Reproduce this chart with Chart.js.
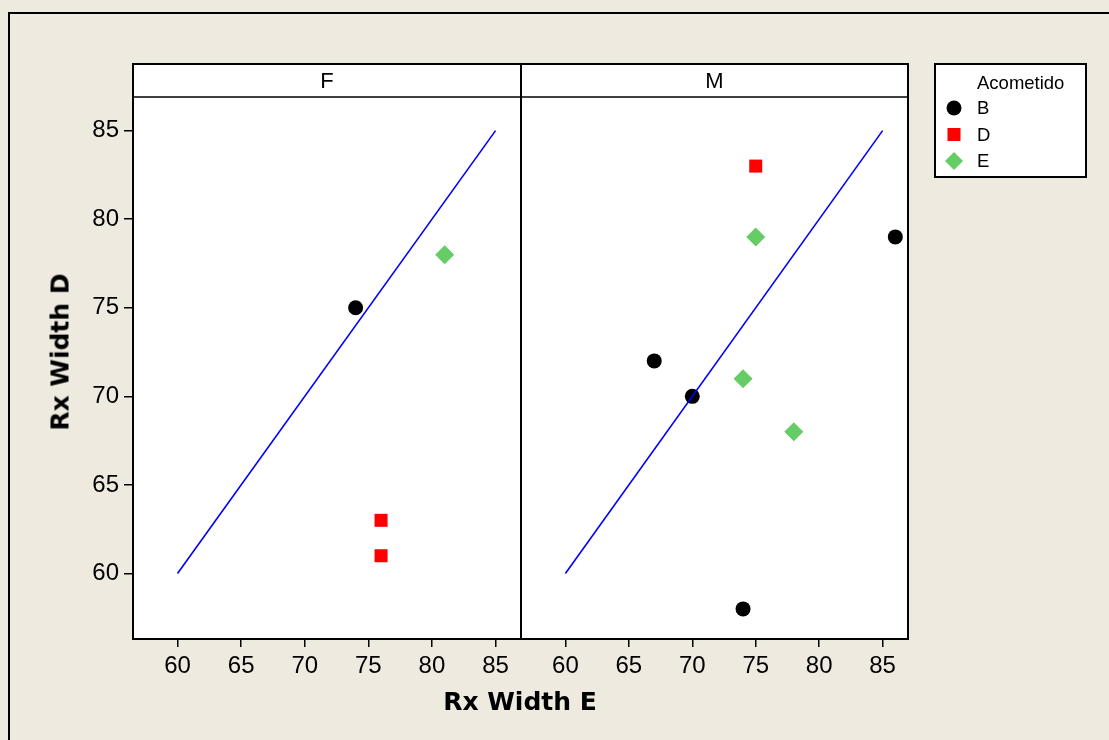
<!DOCTYPE html>
<html>
<head>
<meta charset="utf-8">
<script src="https://cdn.jsdelivr.net/npm/chart.js@4.4.0/dist/chart.umd.min.js"></script>
<style>
  body { margin: 0; background: #EEEAE0; width: 1109px; height: 740px; overflow: hidden; position: relative; }
  #frame { position: absolute; left: 8px; top: 12px; width: 1200px; height: 800px; border-left: 2px solid #000; border-top: 2px solid #000; }
  canvas { position: absolute; left: 0; top: 0; }
  .title { position: absolute; font-family: "DejaVu Sans", sans-serif; font-weight: bold; font-size: 25px; color: #000; white-space: nowrap; }
  #xTitle { left: 520px; top: 701px; transform: translate(-50%, -50%); }
  #yTitle { left: 60px; top: 352px; transform: translate(-50%, -50%) rotate(-90deg); }
</style>
</head>
<body>
<div id="frame"></div>
<canvas id="chartF" width="1109" height="740"></canvas>
<canvas id="chartM" width="1109" height="740"></canvas>
<div class="title" id="xTitle">Rx Width E</div>
<div class="title" id="yTitle">Rx Width D</div>
<script>
// data
const panels = ['F', 'M'];
const groups = ['B', 'D', 'E'];
const xTicks = [60, 65, 70, 75, 80, 85];
const yTicks = [60, 65, 70, 75, 80, 85];
const refLine = [60, 85];

// panel F
const fB_x = [74];
const fB_y = [75];
const fD_x = [76, 76];
const fD_y = [63, 61];
const fE_x = [81];
const fE_y = [78];

// panel M
const mB_x = [67, 70, 74, 86];
const mB_y = [72, 70, 58, 79];
const mD_x = [75];
const mD_y = [83];
const mE_x = [75, 74, 78];
const mE_y = [79, 71, 68];

const xMin = 56.5, xMax = 87;
const yMin = 56.3, yMax = 86.9;
const tickFont = { family: '"Liberation Sans", Arial, sans-serif', size: 24 };
const stripH = 33;

const groupStyle = {
    B: { shape: 'circle', color: '#000000', radius: 7.5 },
    D: { shape: 'rect', color: '#FF0000', radius: 9.2 },
    E: { shape: 'rectRot', color: '#66CC66', radius: 9.5 }
};

function zip(xs, ys) {
    return xs.map((x, i) => ({ x: x, y: ys[i] }));
}

function panelDatasets(bx, by, dx, dy, ex, ey) {
    const pts = { B: zip(bx, by), D: zip(dx, dy), E: zip(ex, ey) };
    const sets = [{
        label: 'y = x',
        data: zip(refLine, refLine),
        showLine: true,
        pointRadius: 0,
        borderColor: '#0000FF',
        borderWidth: 1.6,
        fill: false
    }];
    groups.forEach(g => {
        const st = groupStyle[g];
        sets.push({
            label: g,
            data: pts[g],
            pointStyle: st.shape,
            pointRadius: st.radius,
            pointHoverRadius: st.radius,
            backgroundColor: st.color,
            borderColor: st.color,
            borderWidth: 0
        });
    });
    return sets;
}

// white plot area, header strip and black frame of each panel
const panelFrame = {
    id: 'panelFrame',
    beforeDraw(chart, args, opts) {
        const { ctx, chartArea: a } = chart;
        ctx.save();
        ctx.fillStyle = '#FFFFFF';
        ctx.fillRect(a.left, a.top - stripH, a.width, a.height + stripH);
        ctx.restore();
    },
    afterDraw(chart, args, opts) {
        const { ctx, chartArea: a } = chart;
        ctx.save();
        ctx.strokeStyle = '#000';
        ctx.lineWidth = 2;
        ctx.strokeRect(a.left, a.top - stripH, a.width, a.height + stripH);
        ctx.lineWidth = 1.5;
        ctx.beginPath();
        ctx.moveTo(a.left, a.top);
        ctx.lineTo(a.right, a.top);
        ctx.stroke();
        ctx.fillStyle = '#000';
        ctx.font = '22px "Liberation Sans", Arial, sans-serif';
        ctx.textAlign = 'center';
        ctx.textBaseline = 'middle';
        ctx.fillText(opts.label, (a.left + a.right) / 2, a.top - stripH / 2 + 1);
        ctx.restore();
    }
};

function drawMarker(ctx, shape, color, r, x, y) {
    ctx.fillStyle = color;
    ctx.beginPath();
    if (shape === 'circle') {
        ctx.arc(x, y, r, 0, Math.PI * 2);
    } else if (shape === 'rect') {
        const s = r * Math.SQRT1_2;
        ctx.rect(x - s, y - s, 2 * s, 2 * s);
    } else {
        ctx.moveTo(x, y - r);
        ctx.lineTo(x + r, y);
        ctx.lineTo(x, y + r);
        ctx.lineTo(x - r, y);
        ctx.closePath();
    }
    ctx.fill();
}

// legend box on the right
const groupLegend = {
    id: 'groupLegend',
    afterDraw(chart) {
        const ctx = chart.ctx;
        ctx.save();
        ctx.fillStyle = '#FFFFFF';
        ctx.fillRect(935, 64, 151, 113);
        ctx.strokeStyle = '#000';
        ctx.lineWidth = 2;
        ctx.strokeRect(935, 64, 151, 113);
        ctx.fillStyle = '#000';
        ctx.font = '18.5px "Liberation Sans", Arial, sans-serif';
        ctx.textBaseline = 'middle';
        ctx.fillText('Acometido', 977, 84);
        groups.forEach((g, i) => {
            const y = 108 + i * 26.5;
            const st = groupStyle[g];
            drawMarker(ctx, st.shape, st.color, st.radius * (st.shape === 'rectRot' ? 0.95 : 1), 954, y);
            ctx.fillStyle = '#000';
            ctx.fillText(g, 977, y + 1);
        });
        ctx.restore();
    }
};

function makeChart(id, label, datasets, showY, padding, extraPlugins) {
    const ctx = document.getElementById(id).getContext('2d');
    return new Chart(ctx, {
        type: 'scatter',
        data: { datasets: datasets },
        options: {
            responsive: false,
            animation: false,
            layout: { padding: padding },
            scales: {
                x: {
                    type: 'linear',
                    min: xMin,
                    max: xMax,
                    afterBuildTicks: s => { s.ticks = xTicks.map(v => ({ value: v })); },
                    afterFit: s => { s.height = 40; },
                    ticks: { color: '#000', font: tickFont, padding: 5, maxRotation: 0 },
                    grid: { drawOnChartArea: false, drawTicks: true, tickLength: 8, color: '#000', lineWidth: 1.5 },
                    border: { display: false }
                },
                y: {
                    type: 'linear',
                    display: showY,
                    min: yMin,
                    max: yMax,
                    afterBuildTicks: s => { s.ticks = yTicks.map(v => ({ value: v })); },
                    afterFit: s => { s.width = showY ? 50 : 0; },
                    ticks: { color: '#000', font: tickFont, padding: 5 },
                    grid: { drawOnChartArea: false, drawTicks: true, tickLength: 9, color: '#000', lineWidth: 1.5 },
                    border: { display: false }
                }
            },
            plugins: {
                legend: { display: false },
                tooltip: { enabled: false },
                panelFrame: { label: label }
            }
        },
        plugins: [panelFrame].concat(extraPlugins)
    });
}

makeChart('chartF', panels[0], panelDatasets(fB_x, fB_y, fD_x, fD_y, fE_x, fE_y), true,
    { left: 83, right: 588, top: 97, bottom: 61 }, []);
makeChart('chartM', panels[1], panelDatasets(mB_x, mB_y, mD_x, mD_y, mE_x, mE_y), false,
    { left: 521, right: 201, top: 97, bottom: 61 }, [groupLegend]);
</script>
</body>
</html>
